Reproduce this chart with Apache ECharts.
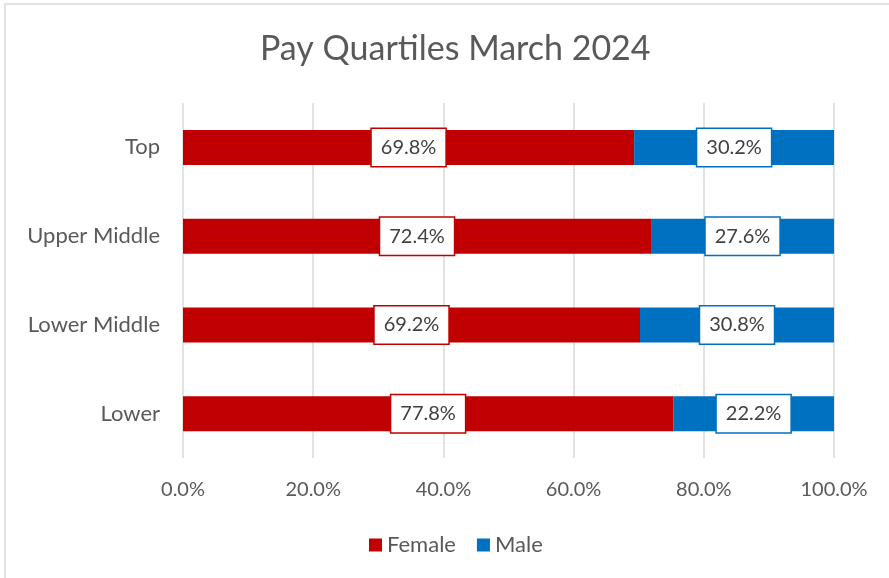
<!DOCTYPE html>
<html>
<head>
<meta charset="utf-8">
<title>Pay Quartiles March 2024</title>
<script src="https://cdn.jsdelivr.net/npm/echarts@6/dist/echarts.min.js"></script>
<style>
  html, body { margin: 0; padding: 0; background: #fff; }
  #main { width: 889px; height: 578px; }
</style>
</head>
<body>
<div id="main"></div>
<script>
// quartile bands, top to bottom
const quartiles = ['Top', 'Upper Middle', 'Lower Middle', 'Lower'];
// bar lengths as drawn in the picture (female share, %)
const femaleBars = [69.3, 71.9, 70.2, 75.3];
const maleBars = [30.7, 28.1, 29.8, 24.7];
// data label text shown on the bars
const femaleLabels = ['69.8%', '72.4%', '69.2%', '77.8%'];
const maleLabels = ['30.2%', '27.6%', '30.8%', '22.2%'];
const xTicks = [0, 20, 40, 60, 80, 100];

const FONT = 'Lato, "Open Sans", sans-serif';
const GREY = '#595959';

const chart = echarts.init(document.getElementById('main'));

function labelStyle(color, texts) {
  return {
    show: true,
    position: 'inside',
    formatter: p => texts[p.dataIndex],
    color: '#404040',
    fontFamily: FONT,
    fontSize: 20,
    lineHeight: 24,
    backgroundColor: '#fff',
    borderColor: color,
    borderWidth: 1.5,
    padding: [7, 9, 6, 9]
  };
}

chart.setOption({
  animation: false,
  title: {
    text: 'Pay Quartiles March 2024',
    left: 255,
    top: 27,
    textStyle: { fontFamily: FONT, fontSize: 34, fontWeight: 'normal', color: GREY }
  },
  graphic: [{
    type: 'rect',
    shape: { x: 5, y: 4, width: 900, height: 600 },
    style: { fill: 'none', stroke: '#d9d9d9', lineWidth: 1.5 },
    silent: true,
    z: -1
  }],
  legend: {
    top: 529,
    left: 364,
    icon: 'rect',
    itemWidth: 13,
    itemHeight: 13,
    itemGap: 21,
    textStyle: { fontFamily: FONT, fontSize: 22, color: GREY },
    data: ['Female', 'Male']
  },
  grid: { left: 183, right: 55, top: 103, bottom: 120, containLabel: false },
  xAxis: {
    type: 'value',
    min: xTicks[0],
    max: xTicks[xTicks.length - 1],
    interval: 20,
    axisLine: { show: false },
    axisTick: { show: false },
    splitLine: { lineStyle: { color: '#d9d9d9', width: 1.5 } },
    axisLabel: {
      margin: 22,
      fontFamily: FONT,
      fontSize: 20,
      color: GREY,
      formatter: v => v.toFixed(1) + '%'
    }
  },
  yAxis: {
    type: 'category',
    inverse: true,
    data: quartiles,
    axisLine: { show: false },
    axisTick: { show: false },
    axisLabel: { margin: 23, fontFamily: FONT, fontSize: 22, color: GREY }
  },
  series: [
    {
      name: 'Female',
      type: 'bar',
      stack: 'share',
      barWidth: 35,
      data: femaleBars,
      itemStyle: { color: '#C00000' },
      label: labelStyle('#C00000', femaleLabels)
    },
    {
      name: 'Male',
      type: 'bar',
      stack: 'share',
      barWidth: 35,
      data: maleBars,
      itemStyle: { color: '#0070C0' },
      label: labelStyle('#0070C0', maleLabels)
    }
  ]
});
</script>
</body>
</html>
